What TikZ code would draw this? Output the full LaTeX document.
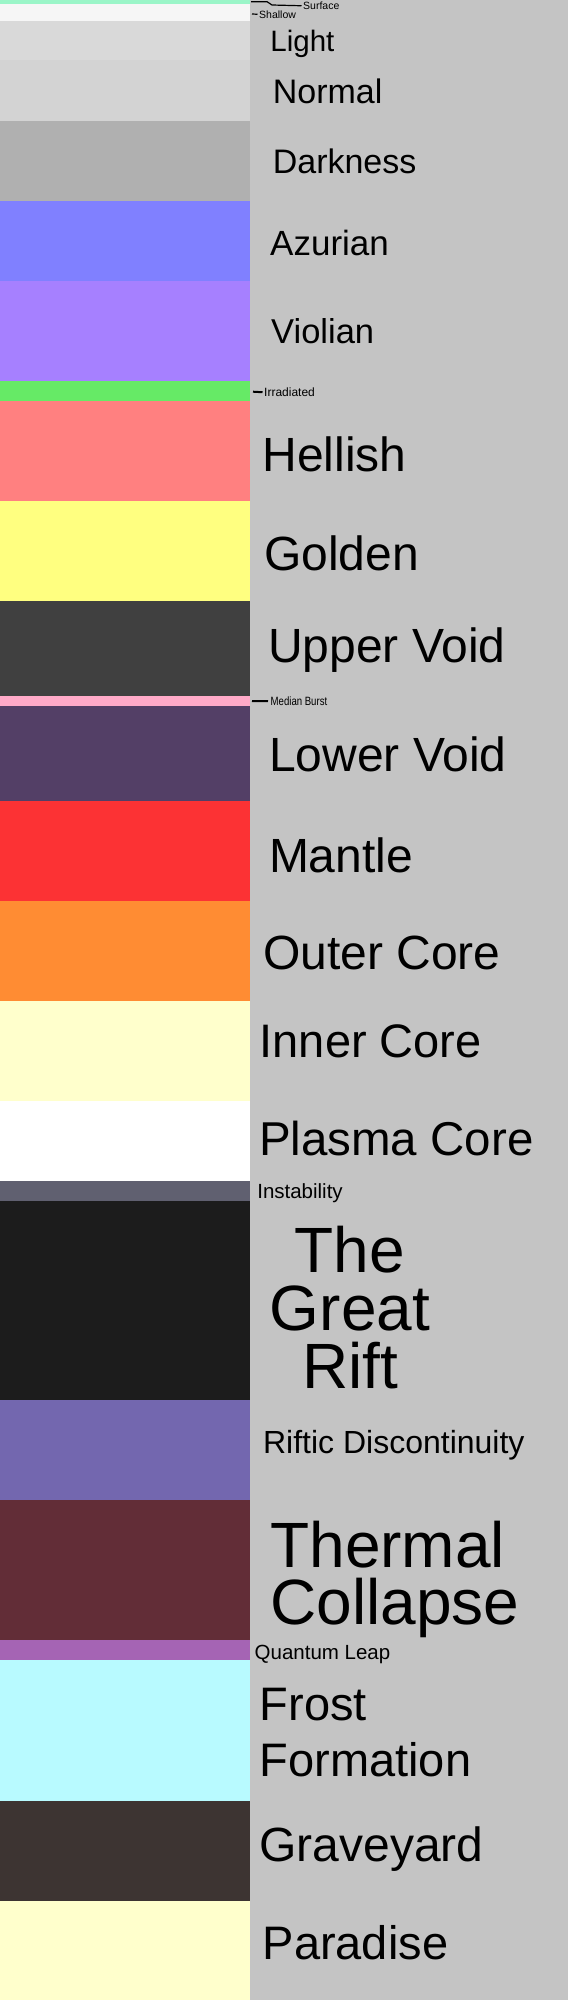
\documentclass[tikz,border=0pt]{standalone}
\usepackage{fontspec}
\setmainfont{Liberation Sans}
\newcommand\fsz[1]{\fontsize{#1}{#1}\selectfont}
\newcommand\mlinesc[2]{\vtop{\baselineskip=#1\lineskiplimit=-\maxdimen\halign{\hfil##\hfil\cr#2\crcr}}}
\newcommand\mlinesl[2]{\vtop{\baselineskip=#1\lineskiplimit=-\maxdimen\halign{##\hfil\cr#2\crcr}}}
\definecolor{bgc}{RGB}{196,196,196}
\definecolor{cSurface}{RGB}{155,245,200}
\definecolor{cShallow}{RGB}{246,246,246}
\definecolor{cLight}{RGB}{217,217,217}
\definecolor{cNormal}{RGB}{211,211,211}
\definecolor{cDark}{RGB}{176,176,176}
\definecolor{cAzur}{RGB}{128,128,255}
\definecolor{cViol}{RGB}{166,128,255}
\definecolor{cIrr}{RGB}{102,234,102}
\definecolor{cHell}{RGB}{255,128,128}
\definecolor{cGold}{RGB}{255,255,128}
\definecolor{cUVoid}{RGB}{64,64,64}
\definecolor{cMedian}{RGB}{255,170,200}
\definecolor{cLVoid}{RGB}{83,63,102}
\definecolor{cMantle}{RGB}{252,50,52}
\definecolor{cOuter}{RGB}{255,140,51}
\definecolor{cInner}{RGB}{255,255,204}
\definecolor{cPlasma}{RGB}{255,255,255}
\definecolor{cInstab}{RGB}{96,96,112}
\definecolor{cRift}{RGB}{28,28,28}
\definecolor{cRiftic}{RGB}{115,103,175}
\definecolor{cThermal}{RGB}{98,45,55}
\definecolor{cQuantum}{RGB}{165,100,180}
\definecolor{cFrost}{RGB}{184,250,255}
\definecolor{cGrave}{RGB}{61,52,50}
\definecolor{cParadise}{RGB}{255,255,204}
\tikzset{
  band/.style={draw=none},
  lbl/.style={anchor=base west, inner sep=0pt, text=black},
  clbl/.style={anchor=base, inner sep=0pt, text=black},
  smalllbl/.style={anchor=base west, inner ysep=0pt, inner xsep=1.5pt, text=black},
  tick/.style={draw=black, line width=1.2pt},
  thicktick/.style={draw=black, line width=2pt},
}
\begin{document}
\begin{tikzpicture}[x=1pt,y=-1pt]
\useasboundingbox (0,0) rectangle (568,2000);
\fill[bgc] (0,0) rectangle (568,2000);
% bands
\fill[band,cSurface] (0,0) rectangle (250,4);
\fill[band,cShallow] (0,4) rectangle (250,21);
\fill[band,cLight] (0,21) rectangle (250,60);
\fill[band,cNormal] (0,60) rectangle (250,121);
\fill[band,cDark] (0,121) rectangle (250,201);
\fill[band,cAzur] (0,201) rectangle (250,281);
\fill[band,cViol] (0,281) rectangle (250,381);
\fill[band,cIrr] (0,381) rectangle (250,401);
\fill[band,cHell] (0,401) rectangle (250,501);
\fill[band,cGold] (0,501) rectangle (250,601);
\fill[band,cUVoid] (0,601) rectangle (250,696);
\fill[band,cMedian] (0,696) rectangle (250,706);
\fill[band,cLVoid] (0,706) rectangle (250,801);
\fill[band,cMantle] (0,801) rectangle (250,901);
\fill[band,cOuter] (0,901) rectangle (250,1001);
\fill[band,cInner] (0,1001) rectangle (250,1101);
\fill[band,cPlasma] (0,1101) rectangle (250,1181);
\fill[band,cInstab] (0,1181) rectangle (250,1201);
\fill[band,cRift] (0,1201) rectangle (250,1400);
\fill[band,cRiftic] (0,1400) rectangle (250,1500);
\fill[band,cThermal] (0,1500) rectangle (250,1640);
\fill[band,cQuantum] (0,1640) rectangle (250,1660);
\fill[band,cFrost] (0,1660) rectangle (250,1801);
\fill[band,cGrave] (0,1801) rectangle (250,1901);
\fill[band,cParadise] (0,1901) rectangle (250,2000);
% small labels with ticks
\node[smalllbl, font=\fsz{10.5}] (surface) at (301.5,9.5) {Surface};
\node[smalllbl, font=\fsz{10.5}] (shallow) at (257.5,18) {Shallow};
\node[smalllbl, font=\fsz{12}] (irradiated) at (262.5,396.5) {Irradiated};
\node[smalllbl, font=\fsz{12}, inner xsep=2.5pt] (median) at (268,705.5) {\scalebox{0.8}[1]{Median Burst}};
\coordinate (surfA) at (251,1.7);
\coordinate (shalA) at (252,14);
\coordinate (irrA) at (253,391.7);
\coordinate (medA) at (252,701);
\draw[tick] (surfA) -- ++(16,0) -- ++(5,3.3) -- (surface.west);
\draw[tick] (shalA) -- (shallow.west);
\draw[thicktick] (irrA) -- (irradiated.west);
\draw[thicktick] (medA) -- (median.west);
% layer labels
\node[lbl, font=\fsz{29.5}] (light) at (270.2,51) {Light};
\node[lbl, font=\fsz{34}] (normal) at (272.7,103) {Normal};
\node[lbl, font=\fsz{34}] (darkness) at (272.6,173) {Darkness};
\node[lbl, font=\fsz{35}] (azurian) at (270,255) {Azurian};
\node[lbl, font=\fsz{34.5}] (violian) at (271,343) {Violian};
\node[lbl, font=\fsz{48}] (hellish) at (262.4,471) {Hellish};
\node[lbl, font=\fsz{48}] (golden) at (263.9,570) {Golden};
\node[lbl, font=\fsz{48}] (uppervoid) at (267.9,662) {Upper Void};
\node[lbl, font=\fsz{48}] (lowervoid) at (268.9,771) {Lower Void};
\node[lbl, font=\fsz{48}] (mantle) at (268.8,872) {Mantle};
\node[lbl, font=\fsz{48}] (outercore) at (262.9,969) {Outer Core};
\node[lbl, font=\fsz{47}] (innercore) at (259.5,1057) {Inner Core};
\node[lbl, font=\fsz{47.5}] (plasmacore) at (258.8,1155) {Plasma Core};
\node[lbl, font=\fsz{20.5}] (instability) at (257.1,1198) {Instability};
\node[clbl, font=\fsz{64}] (greatrift) at (350,1272) {\mlinesc{58pt}{The\cr Great\cr Rift}};
\node[lbl, font=\fsz{32}] (riftic) at (262.9,1453) {Riftic Discontinuity};
\node[lbl, font=\fsz{64}] (thermal) at (270.2,1567) {\mlinesl{57pt}{Thermal\cr Collapse}};
\node[lbl, font=\fsz{20.5}] (quantum) at (254.5,1659) {Quantum Leap};
\node[lbl, font=\fsz{47}] (frost) at (259.5,1720) {\mlinesl{56pt}{Frost\cr Formation}};
\node[lbl, font=\fsz{48}] (graveyard) at (259.2,1861) {Graveyard};
\node[lbl, font=\fsz{47}] (paradise) at (262.5,1959) {Paradise};
\end{tikzpicture}
\end{document}
